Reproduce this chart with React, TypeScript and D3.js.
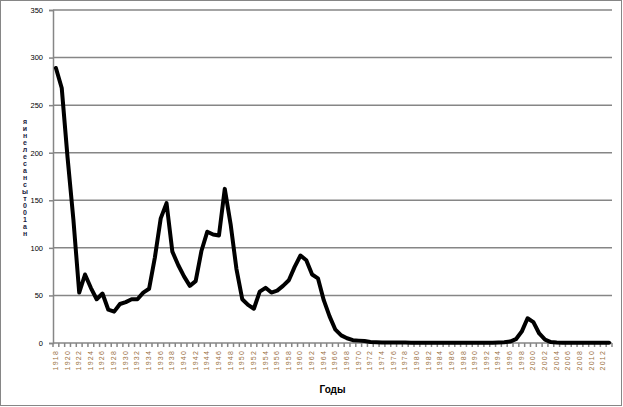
import * as d3 from 'd3';
import React, { useEffect, useRef } from 'react';

// categories: years (one per point)
const years: string[] = d3.range(1918, 2014).map((y) => String(y));

// rate per 100 000 population
const rates: number[] = [
    289, 268, 195, 130, 53, 72, 58, 46, 52, 35,
    33, 41, 43, 46, 46, 53, 57, 90, 131, 147,
    96, 82, 70, 60, 65, 97, 117, 114, 113, 162,
    125, 78, 46, 40, 36, 54, 58, 53, 55, 60,
    66, 80, 92, 87, 72, 68, 45, 28, 14, 8,
    5, 3, 2.5, 2, 1,
    0.8, 0.6, 0.5, 0.5, 0.4, 0.4, 0.3, 0.3, 0.3, 0.3, 0.2, 0.2,
    0.2, 0.2, 0.2, 0.2, 0.2, 0.2, 0.2, 0.3, 0.3, 0.5, 0.8,
    1.5, 4, 12, 26, 22, 10, 3.5, 1,
    0.5, 0.3, 0.2, 0.2, 0.2, 0.2, 0.2, 0.2, 0.2, 0.2,
];

const yTicks: number[] = [0, 50, 100, 150, 200, 250, 300, 350];

const yTitle = 'на100тыс населения';
const xTitle = 'Годы';

const WIDTH = 623;
const HEIGHT = 407;
const GRID = '#868686';

const Chart: React.FC = () => {
    const ref = useRef<SVGSVGElement | null>(null);

    useEffect(() => {
        const margin = { top: 10, right: 11, bottom: 64, left: 53 };
        const plotRight = WIDTH - margin.right;
        const plotBottom = HEIGHT - margin.bottom;

        const svg = d3.select(ref.current);
        svg.selectAll('*').remove();

        // outer chart border
        svg.append('rect')
            .attr('x', 0.5)
            .attr('y', 0.5)
            .attr('width', WIDTH - 2)
            .attr('height', HEIGHT - 2)
            .attr('fill', '#fff')
            .attr('stroke', GRID)
            .attr('stroke-width', 1);

        const x = d3
            .scaleBand()
            .domain(years)
            .range([margin.left, plotRight])
            .padding(0);

        const y = d3
            .scaleLinear()
            .domain([0, 350])
            .range([plotBottom, margin.top]);

        // gridlines
        svg.append('g')
            .selectAll('line')
            .data(yTicks.filter((t) => t > 0))
            .join('line')
            .attr('x1', margin.left)
            .attr('x2', plotRight)
            .attr('y1', (d) => y(d))
            .attr('y2', (d) => y(d))
            .attr('stroke', GRID)
            .attr('stroke-width', 1.5);

        // y axis
        const yAxis = svg
            .append('g')
            .attr('transform', `translate(${margin.left}, 0)`)
            .call(d3.axisLeft(y).tickValues(yTicks).tickSize(4).tickPadding(6));
        yAxis.select('.domain').attr('stroke', GRID).attr('stroke-width', 1.5);
        yAxis.selectAll('.tick line').attr('stroke', GRID).attr('stroke-width', 1.5);
        yAxis
            .selectAll('.tick text')
            .attr('font-family', 'Liberation Sans, Arial, sans-serif')
            .attr('font-size', 7.5)
            .attr('fill', '#000');

        // x axis line and ticks at category boundaries
        svg.append('line')
            .attr('x1', margin.left)
            .attr('x2', plotRight)
            .attr('y1', plotBottom)
            .attr('y2', plotBottom)
            .attr('stroke', GRID)
            .attr('stroke-width', 1.5);

        const bounds = years.map((d) => x(d)!).concat([plotRight]);
        svg.append('g')
            .selectAll('line')
            .data(bounds)
            .join('line')
            .attr('x1', (d) => d)
            .attr('x2', (d) => d)
            .attr('y1', plotBottom)
            .attr('y2', plotBottom + 4)
            .attr('stroke', GRID)
            .attr('stroke-width', 1.5);

        // tiny rotated year labels, every other year
        svg.append('g')
            .selectAll('text')
            .data(years.filter((_, i) => i % 2 === 0))
            .join('text')
            .attr('transform', (d) => `translate(${x(d)! + x.bandwidth() / 2 + 2}, ${plotBottom + 7}) rotate(-90)`)
            .attr('text-anchor', 'end')
            .attr('font-family', 'Liberation Sans, Arial, sans-serif')
            .attr('font-size', 7)
            .attr('letter-spacing', 1.2)
            .attr('fill', '#9a7040')
            .text((d) => d);

        // the series
        const line = d3
            .line<number>()
            .x((_, i) => x(years[i])! + x.bandwidth() / 2)
            .y((d) => y(d));

        svg.append('path')
            .datum(rates)
            .attr('d', line)
            .attr('fill', 'none')
            .attr('stroke', '#000')
            .attr('stroke-width', 4)
            .attr('stroke-linejoin', 'round')
            .attr('stroke-linecap', 'round');

        // y title: letters stacked upright, top to bottom, in reverse order
        const stacked = Array.from(yTitle.replace(/ /g, '')).reverse().join('');
        svg.append('text')
            .attr('x', 25)
            .attr('y', 118)
            .style('writing-mode', 'vertical-rl')
            .style('text-orientation', 'upright')
            .attr('font-family', 'Liberation Sans, Arial, sans-serif')
            .attr('font-size', 7)
            .attr('font-weight', 'bold')
            .attr('fill', '#1a1a40')
            .text(stacked);

        // x title
        svg.append('text')
            .attr('x', (margin.left + plotRight) / 2)
            .attr('y', 393)
            .attr('text-anchor', 'middle')
            .attr('font-family', 'Liberation Sans, Arial, sans-serif')
            .attr('font-size', 10)
            .attr('font-weight', 'bold')
            .attr('fill', '#000')
            .text(xTitle);
    }, []);

    return (
        <svg
            ref={ref}
            width={WIDTH}
            height={HEIGHT}
            style={{ position: 'absolute', left: 0, top: 0 }}
        ></svg>
    );
};

export default function App() {
    return <Chart />;
}
